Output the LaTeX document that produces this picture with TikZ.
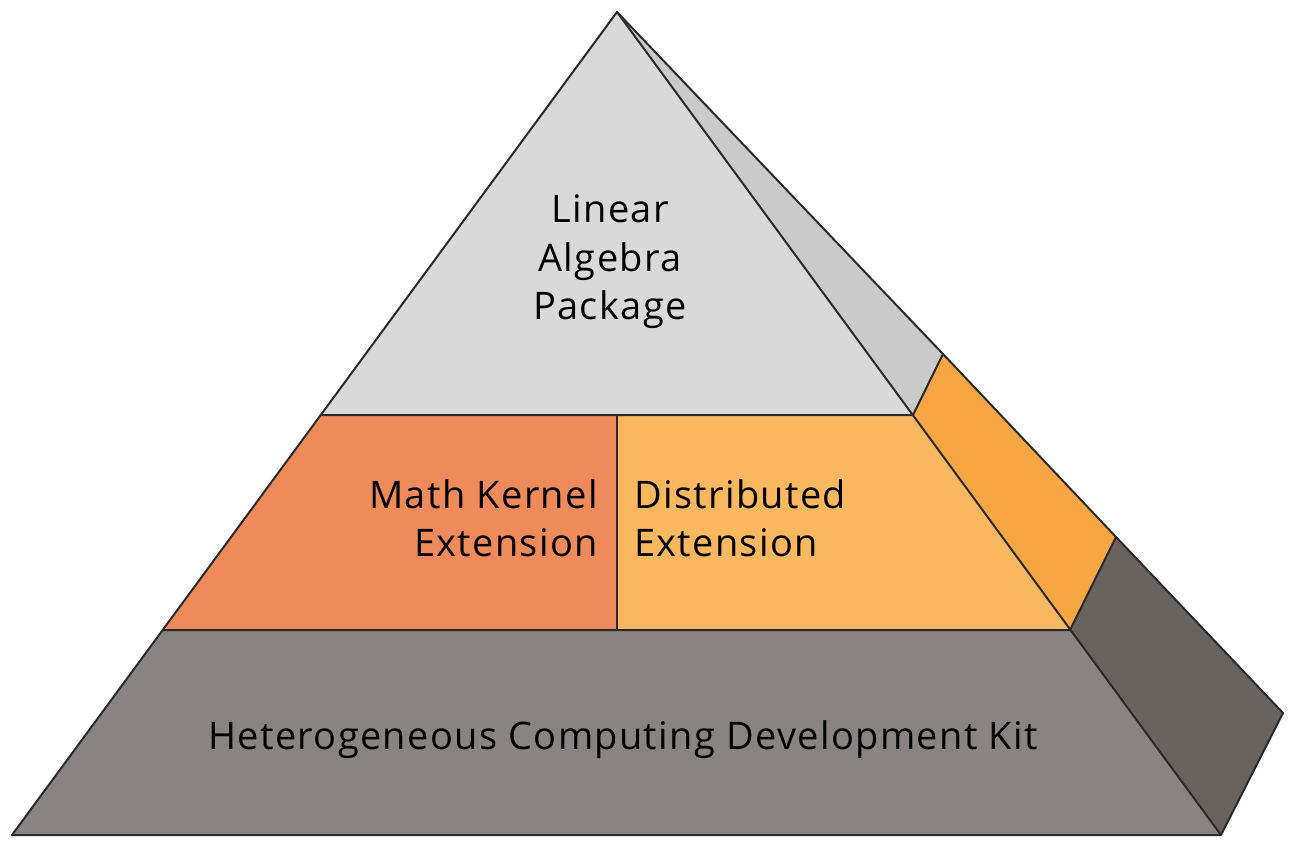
\documentclass[tikz,border=0pt]{standalone}
\usepackage{fontspec}
\setmainfont{Open Sans}[LetterSpace=3.5]
\definecolor{topfront}{HTML}{D9D9D9}
\definecolor{topside}{HTML}{CACACA}
\definecolor{mathk}{HTML}{EF8B5B}
\definecolor{distr}{HTML}{F9B860}
\definecolor{midside}{HTML}{F6A642}
\definecolor{botfront}{HTML}{898483}
\definecolor{botside}{HTML}{69625F}
\definecolor{edge}{HTML}{2A2A2A}
\tikzset{
  face/.style={draw=edge, line width=2pt, line join=round},
  label/.style={font=\fontsize{38}{48.5}\selectfont, inner sep=0pt, text=black}
}
\begin{document}
\begin{tikzpicture}[x=1pt,y=-1pt]
\useasboundingbox (0,0) rectangle (1296,849);
% key points
\coordinate (apex) at (617,12);
\coordinate (bl) at (12,835);
\coordinate (br) at (1221,835);
\coordinate (l1) at (322,415);
\coordinate (r1) at (913,415);
\coordinate (m1) at (617,415);
\coordinate (l2) at (163,630);
\coordinate (r2) at (1070,630);
\coordinate (m2) at (617,630);
\coordinate (s1) at (943,354);
\coordinate (s2) at (1116,537);
\coordinate (s3) at (1283,713);
% side faces
\fill[topside] (apex) -- (s1) -- (r1) -- cycle;
\fill[midside] (r1) -- (s1) -- (s2) -- (r2) -- cycle;
\fill[botside] (r2) -- (s2) -- (s3) -- (br) -- cycle;
% front faces
\fill[topfront] (apex) -- (r1) -- (l1) -- cycle;
\fill[mathk] (l1) -- (m1) -- (m2) -- (l2) -- cycle;
\fill[distr] (m1) -- (r1) -- (r2) -- (m2) -- cycle;
\fill[botfront] (l2) -- (r2) -- (br) -- (bl) -- cycle;
% edges
\draw[face] (apex) -- (s1) -- (s2) -- (s3) -- (br) -- (bl) -- cycle;
\draw[face] (apex) -- (br);
\draw[face] (l1) -- (r1) -- (s1);
\draw[face] (l2) -- (r2) -- (s2);
\draw[face] (m1) -- (m2);
% labels
\node[label, align=center] (lap) at (610,262) {Linear\\Algebra\\Package};
\node[label, align=right, anchor=east] (mke) at (598,518) {Math Kernel\\Extension};
\node[label, align=left, anchor=west] (de) at (634,518) {Distributed\\Extension};
\node[label] (hcdk) at (623,740) {Heterogeneous Computing Development Kit};
\end{tikzpicture}
\end{document}
